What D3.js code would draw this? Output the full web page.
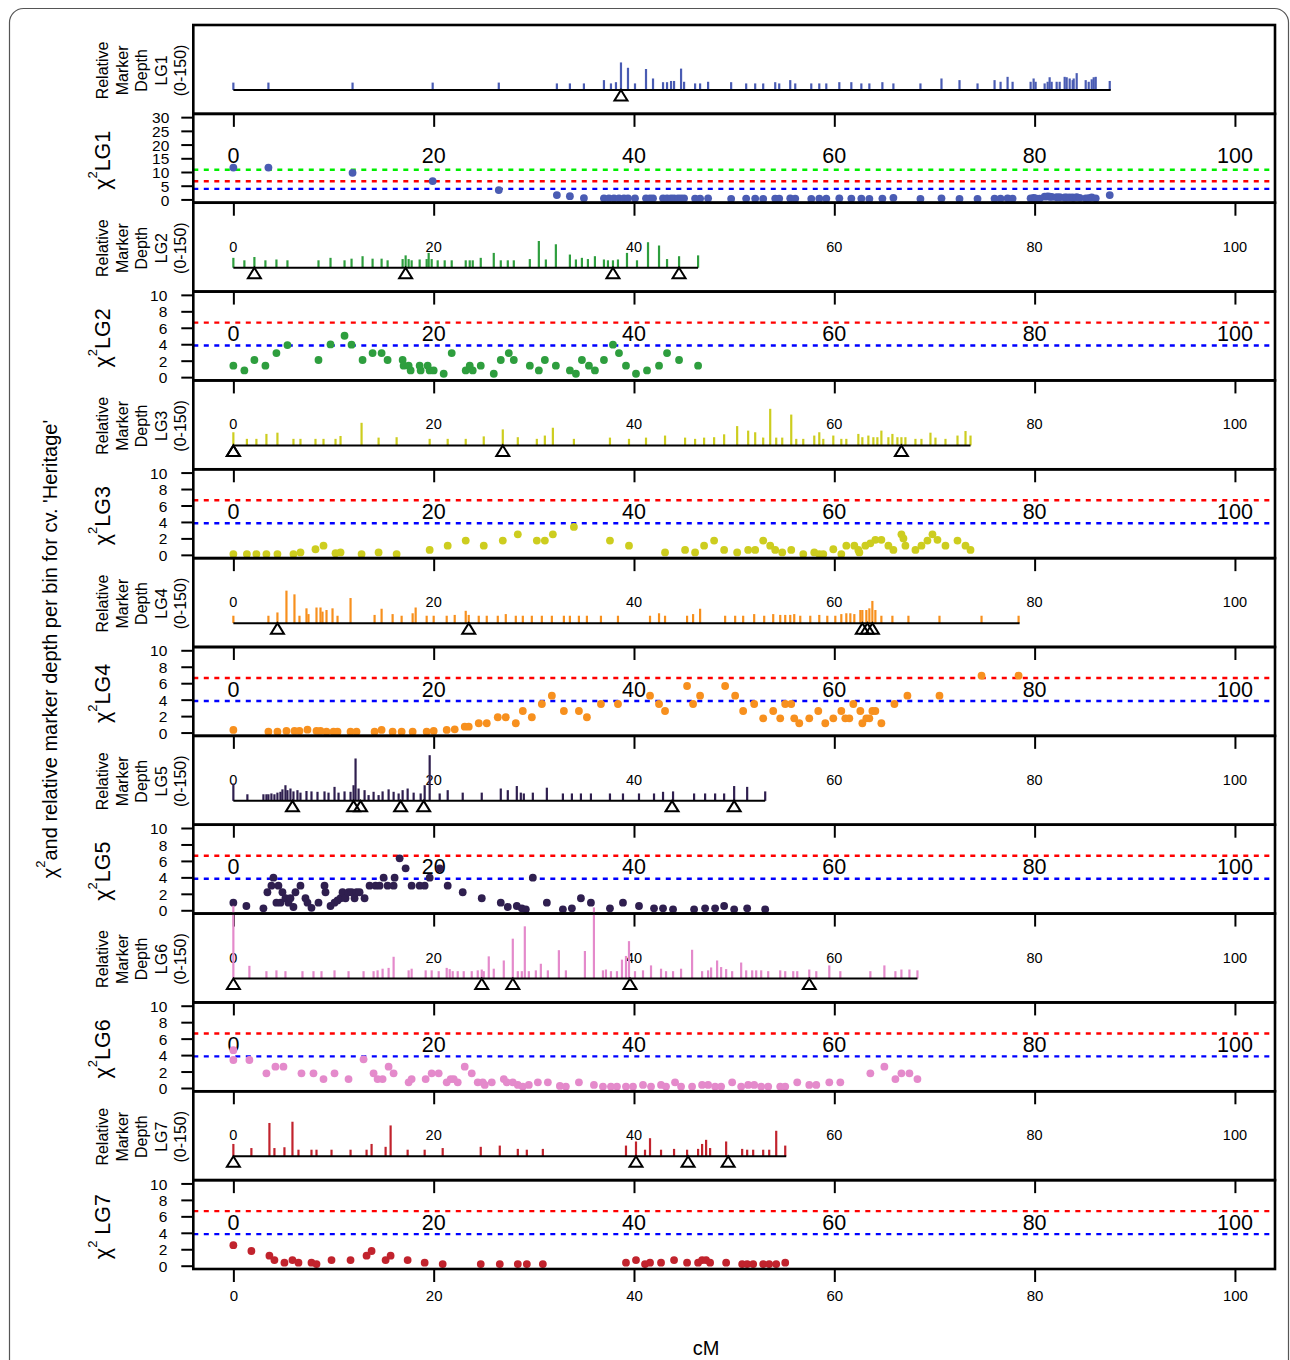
<!DOCTYPE html>
<html><head><meta charset="utf-8">
<script src="https://cdn.jsdelivr.net/npm/d3@7"></script>
<style>body{margin:0;background:#fff} svg text{font-family:"Liberation Sans",Arial,Helvetica,sans-serif;fill:#000}</style>
</head><body><svg id="c" width="1290" height="1360"></svg>
<script>
// ---------------- DATA ----------------
const cmTicks = [0, 20, 40, 60, 80, 100];
const lgNames = ["LG1", "LG2", "LG3", "LG4", "LG5", "LG6", "LG7"];
const lgColors = ["#4a5cb3", "#2e9e3e", "#cdcd1f", "#f7901e", "#2f1f4f", "#e48acb", "#c1232d"];
const lgLengths = [87.6, 46.4, 73.6, 78.5, 53.1, 68.3, 55.2];
const chiThresholds = [3.84, 6.63, 10.83];
const chiTicksLG1 = [0, 5, 10, 15, 20, 25, 30];
const chiTicks = [0, 2, 4, 6, 8, 10];

// relative marker depth per bin [cM, depth]
const lg1Depth = [[0,18],[3.5,18],[11.9,18],[19.9,18],[26.5,18],[32.3,16],[33.6,16],[35.0,16],[37.0,24],[37.7,16],[38.2,19],[38.7,67],[39.4,54],[40.1,16],[41.2,51],[41.9,28],[42.9,19],[43.3,19],[43.7,22],[44.0,22],[44.7,52],[45.0,20],[46.1,16],[46.6,16],[47.4,20],[49.7,19],[51.2,16],[52.1,16],[52.9,16],[54.1,19],[54.5,16],[55.6,24],[56.1,16],[57.7,16],[58.5,16],[59.2,16],[60.5,19],[61.7,19],[62.7,16],[63.5,16],[64.8,19],[65.9,16],[68.6,16],[70.7,28],[72.5,24],[74.3,16],[76.0,24],[76.6,20],[77.3,32],[77.8,20],[79.6,20],[79.9,28],[80.1,20],[81.0,16],[81.3,20],[81.5,31],[81.7,20],[82.2,20],[82.5,20],[83.0,32],[83.2,31],[83.5,28],[83.8,24],[83.9,28],[84.2,41],[85.1,24],[85.4,20],[85.7,26],[85.9,31],[86.1,32],[87.5,22]];
const lg2Depth = [[0,24],[1.1,18],[2.1,26],[3.2,18],[4.3,20],[5.4,18],[8.5,18],[9.7,24],[11.1,18],[11.8,22],[12.9,28],[13.9,22],[14.8,22],[15.4,18],[16.9,21],[17.2,30],[17.5,21],[17.8,18],[18.6,20],[19.3,21],[19.5,36],[19.8,21],[20.4,18],[21.1,18],[21.8,18],[23.2,18],[23.6,18],[23.9,18],[24.7,24],[26.0,36],[26.7,18],[27.4,18],[28.0,18],[29.6,21],[30.5,65],[31.2,20],[32.2,57],[33.6,32],[34.2,20],[34.8,24],[35.4,21],[36.1,28],[37.0,20],[37.4,18],[37.9,18],[38.4,20],[39.3,36],[40.3,18],[41.4,62],[42.5,54],[43.3,21],[44.5,28],[46.4,30]];
const lg3Depth = [[0,32],[1.35,16],[2.3,16],[3.3,28],[4.4,31],[6.0,16],[6.7,16],[8.2,16],[9.0,16],[10.2,16],[10.7,23],[12.8,55],[14.5,19],[16.3,20],[19.6,16],[21.4,16],[23.2,16],[25.0,22],[26.9,39],[28.4,20],[30.3,16],[31.1,24],[31.9,43],[34.0,16],[37.6,19],[39.5,16],[41.2,19],[43.1,24],[45.1,19],[46.1,16],[47.0,19],[48.0,20],[49.0,27],[50.3,47],[51.4,36],[52.1,32],[52.9,19],[53.6,89],[54.2,19],[54.8,19],[55.7,75],[56.2,16],[56.9,16],[58.0,24],[58.5,32],[58.9,16],[59.9,24],[60.7,16],[61.2,16],[62.4,28],[62.8,20],[63.4,24],[63.9,20],[64.3,20],[64.7,36],[65.4,20],[65.8,28],[66.3,20],[66.7,20],[67.1,20],[68.1,16],[68.7,16],[69.6,31],[70.1,19],[71.1,16],[72.3,24],[73.1,35],[73.6,24]];
const lg4Depth = [[0,18],[3.5,18],[4.4,26],[5.3,79],[6.1,70],[6.6,18],[7.3,36],[7.5,22],[8.3,38],[8.7,38],[8.9,28],[9.3,32],[9.9,36],[10.4,18],[11.7,61],[14.1,20],[14.8,35],[15.9,22],[16.8,18],[17.9,24],[18.2,38],[19.3,18],[20.0,18],[21.3,18],[22.1,20],[23.2,30],[23.5,20],[24.5,18],[25.3,18],[26.4,18],[27.2,22],[28.2,18],[28.9,18],[29.8,18],[30.8,18],[31.8,18],[33.0,18],[33.6,18],[34.5,18],[35.3,18],[36.7,18],[38.4,18],[41.6,18],[42.5,24],[43.1,18],[45.3,18],[45.9,22],[46.6,35],[49.1,18],[50.1,18],[50.9,18],[52.0,22],[53.0,18],[53.9,22],[54.6,20],[55.1,20],[55.6,20],[56.0,22],[56.6,18],[57.6,18],[58.5,20],[59.3,18],[60.1,18],[60.7,22],[61.2,24],[61.6,24],[62.0,22],[62.6,32],[62.8,32],[63.2,32],[63.5,36],[63.8,54],[64.1,32],[64.7,18],[65.8,18],[67.4,18],[70.5,18],[74.7,18],[78.4,18]];
const lg5Depth = [[0,42],[1.4,16],[3.0,16],[3.3,16],[3.5,16],[3.8,18],[4.1,16],[4.4,20],[4.7,22],[4.9,28],[5.2,38],[5.4,26],[5.7,30],[6.0,23],[6.4,26],[6.7,20],[7.3,24],[7.8,23],[8.4,22],[9.1,23],[9.5,20],[10.1,34],[10.5,20],[11.1,23],[11.7,22],[12.0,38],[12.2,103],[12.5,30],[13.1,26],[13.5,14],[14.0,22],[14.5,14],[14.9,23],[15.5,28],[16.0,22],[16.5,18],[16.9,26],[17.4,30],[18.0,20],[18.7,18],[19.1,38],[19.6,111],[20.6,18],[21.4,26],[22.9,20],[24.8,20],[26.7,30],[27.4,26],[28.3,36],[28.7,20],[29.0,18],[29.9,20],[31.3,32],[32.9,18],[33.8,18],[34.7,18],[35.7,18],[37.6,18],[38.9,18],[40.5,18],[42.0,18],[42.9,22],[43.9,23],[46.0,18],[47.1,18],[48.1,18],[49.0,18],[50.0,36],[51.3,34],[53.1,23]];
const lg6Depth = [[0,177],[1.6,31],[3.3,18],[4.3,20],[5.2,18],[6.9,18],[8.0,18],[8.8,18],[10.1,20],[11.5,18],[13.0,18],[14.0,18],[14.4,20],[14.9,24],[15.5,26],[16.0,53],[17.5,20],[17.8,24],[19.2,20],[19.8,20],[20.5,18],[21.3,26],[21.6,23],[21.9,18],[22.4,18],[23.0,18],[23.8,18],[24.4,20],[24.8,22],[25.0,18],[25.5,54],[26.0,24],[27.0,44],[27.9,97],[28.4,18],[28.8,18],[29.1,127],[29.5,18],[30.2,20],[30.7,36],[31.4,20],[32.5,69],[33.2,20],[35.1,67],[36.0,173],[36.9,20],[37.2,22],[37.7,18],[38.3,18],[38.8,46],[39.2,55],[39.5,91],[40.1,18],[40.9,20],[41.7,32],[42.7,24],[43.2,18],[43.9,18],[44.7,24],[45.8,70],[46.8,18],[47.4,20],[47.7,27],[48.3,44],[48.7,28],[49.2,23],[49.8,18],[50.7,39],[51.2,20],[51.8,20],[52.2,20],[52.7,20],[53.4,18],[54.6,20],[55.1,18],[55.9,18],[56.3,18],[57.5,22],[58.2,18],[59.5,32],[60.6,18],[63.6,18],[65.0,32],[66.1,18],[66.7,22],[67.5,22],[68.3,20]];
const lg7Depth = [[0,30],[1.8,20],[3.6,81],[4.1,20],[5.1,22],[5.9,84],[6.5,16],[7.8,16],[8.3,16],[9.8,16],[11.7,16],[13.3,16],[13.8,30],[15.2,23],[15.7,75],[17.4,16],[19.1,16],[20.9,20],[24.7,23],[26.6,26],[28.4,18],[29.3,16],[30.9,18],[39.2,26],[40.2,36],[41.1,16],[41.6,44],[42.7,16],[44.0,18],[45.3,16],[46.4,18],[46.8,30],[47.2,40],[47.6,20],[49.2,36],[50.8,18],[51.3,16],[51.9,16],[52.9,16],[53.5,16],[54.2,62],[55.1,26]];

// chi-square values per bin [cM, chi2]
const lg1Chi = [[0,11.6],[3.5,11.6],[11.9,9.7],[19.9,6.7],[26.5,3.4],[32.3,1.6],[33.6,1.2],[35.0,0.5],[37.0,0.4],[37.5,0.4],[38.0,0.4],[38.5,0.4],[39.0,0.4],[39.4,0.4],[40.1,0.4],[41.2,0.4],[41.6,0.4],[41.9,0.4],[42.9,0.4],[43.3,0.4],[43.7,0.4],[44.0,0.4],[44.4,0.4],[44.7,0.4],[45.0,0.4],[46.1,0.3],[46.6,0.3],[47.4,0.4],[49.7,0.2],[51.2,0.3],[52.1,0.3],[52.9,0.2],[54.1,0.3],[54.5,0.3],[55.6,0.4],[56.1,0.3],[57.7,0.2],[58.5,0.3],[59.2,0.3],[60.5,0.4],[61.7,0.3],[62.7,0.3],[63.5,0.2],[64.8,0.3],[65.9,0.6],[68.6,0.2],[70.7,0.4],[72.5,0.2],[74.3,0.2],[76.0,0.3],[76.6,0.3],[77.3,0.4],[77.8,0.3],[79.6,0.4],[79.9,0.6],[80.1,0.4],[80.5,0.3],[81.0,1.0],[81.3,1.1],[81.5,1.0],[81.7,0.9],[82.2,0.8],[82.5,0.8],[83.0,0.7],[83.2,0.7],[83.5,0.7],[83.8,0.7],[83.9,0.6],[84.2,0.8],[84.5,0.6],[85.1,0.4],[85.4,0.5],[85.7,0.7],[86.1,0.4],[87.5,1.6]];
const lg2Chi = [[0,1.39],[1.1,0.82],[2.1,2.08],[3.2,1.39],[4.3,2.93],[5.4,3.9],[8.5,2.08],[9.7,3.98],[11.1,5.03],[11.8,3.94],[12.9,2.08],[13.9,2.93],[14.8,2.93],[15.4,2.08],[16.9,2.08],[17.0,1.39],[17.5,1.39],[17.7,0.82],[18.6,1.39],[18.7,0.82],[19.4,1.39],[19.6,0.82],[20.0,0.82],[21.0,0.41],[21.8,2.93],[23.2,0.82],[23.6,1.39],[23.9,0.82],[24.7,1.39],[26.0,0.41],[26.7,2.08],[27.5,2.93],[28.0,2.08],[29.6,1.39],[30.5,0.82],[31.1,2.08],[32.2,1.39],[33.6,0.82],[34.2,0.41],[34.8,2.08],[35.5,1.39],[36.1,0.82],[37.0,2.08],[37.9,3.94],[38.5,2.93],[39.2,1.39],[40.2,0.41],[41.3,0.82],[42.5,1.39],[43.3,2.93],[44.5,2.08],[46.4,1.39]];
const lg3Chi = [[0,0.1],[1.35,0.1],[2.3,0.1],[3.3,0.1],[4.4,0.1],[6.0,0.1],[6.7,0.3],[8.2,0.68],[9.0,1.12],[10.2,0.2],[10.7,0.3],[12.8,0.1],[14.5,0.3],[16.3,0.1],[19.6,0.6],[21.4,1.12],[23.2,1.73],[25.0,1.12],[26.9,1.73],[28.4,2.5],[30.3,1.73],[31.1,1.73],[31.9,2.5],[34.0,3.4],[37.6,1.73],[39.5,1.12],[43.1,0.3],[45.1,0.6],[46.1,0.3],[47.0,1.12],[48.0,1.73],[49.0,0.6],[50.3,0.3],[51.4,0.6],[52.1,0.6],[52.9,1.73],[53.6,1.12],[54.1,0.6],[54.8,0.3],[55.7,0.6],[56.9,0.1],[58.0,0.3],[58.5,0.1],[58.9,0.1],[59.9,0.68],[60.7,0.1],[61.2,1.12],[62.0,1.12],[62.4,0.6],[62.5,0.3],[63.1,1.12],[63.6,1.4],[64.1,1.83],[64.7,1.83],[65.4,1.12],[65.9,0.6],[66.7,2.5],[66.9,2.0],[67.1,1.12],[68.1,0.6],[68.7,1.12],[69.3,1.73],[69.8,2.5],[70.3,1.83],[71.1,1.12],[72.3,1.73],[73.1,1.12],[73.6,0.6]];
const lg4Chi = [[0,0.32],[3.5,0.11],[4.4,0.11],[5.3,0.2],[6.1,0.2],[6.6,0.2],[7.4,0.35],[8.3,0.2],[8.7,0.2],[9.3,0.11],[10.0,0.11],[10.4,0.11],[11.7,0.11],[12.3,0.11],[14.1,0.11],[14.8,0.32],[15.9,0.11],[16.8,0.11],[17.9,0.11],[19.3,0.11],[20.0,0.2],[21.3,0.32],[22.1,0.4],[23.1,0.72],[23.5,0.72],[24.5,1.13],[25.3,1.13],[26.4,1.86],[27.2,1.86],[28.2,1.13],[28.9,2.62],[29.8,1.86],[30.8,3.47],[31.8,4.48],[33.0,2.62],[34.5,2.62],[35.3,1.86],[36.7,3.47],[38.4,3.47],[41.6,4.48],[42.5,3.47],[43.1,2.62],[45.3,5.66],[45.9,3.47],[46.6,4.48],[49.1,5.66],[50.1,4.48],[50.9,2.62],[52.0,3.47],[52.9,1.73],[53.9,2.62],[54.6,1.73],[55.1,3.47],[55.7,3.47],[56.0,1.73],[56.5,1.13],[57.5,1.73],[58.4,2.62],[59.1,1.13],[59.9,1.73],[60.7,2.62],[61.1,1.73],[61.5,1.73],[61.9,3.47],[62.6,2.62],[62.8,1.13],[63.2,1.73],[63.5,1.73],[63.8,2.62],[64.1,2.62],[64.7,1.13],[66.0,3.47],[67.3,4.48],[70.5,4.48],[74.7,6.91],[78.4,6.91]];
const lg5Chi = [[0,0.93],[1.3,0.52],[3.0,0.24],[3.4,2.19],[3.8,2.99],[4.0,3.96],[4.3,0.93],[4.5,2.99],[4.7,0.93],[4.9,2.19],[5.2,1.46],[5.5,0.93],[5.7,1.46],[6.0,0.4],[6.2,2.19],[6.7,2.99],[7.2,1.46],[7.4,0.93],[7.8,0.3],[8.5,0.93],[9.1,2.99],[9.2,2.19],[9.7,0.52],[10.1,0.93],[10.4,1.2],[10.7,1.46],[10.9,2.19],[11.2,1.46],[11.5,2.19],[11.8,2.19],[12.1,1.46],[12.3,2.19],[12.6,2.19],[13.1,1.46],[13.6,2.99],[14.2,2.99],[14.6,2.99],[15.0,3.96],[15.4,2.99],[16.0,2.99],[16.1,3.96],[16.6,6.32],[17.2,5.1],[17.8,2.99],[18.6,2.99],[19.1,2.99],[19.6,3.96],[20.6,5.1],[21.4,2.99],[22.9,2.19],[24.8,1.46],[26.7,0.93],[27.4,0.4],[28.3,0.52],[28.8,0.24],[29.2,0.12],[29.9,3.96],[31.3,0.93],[32.9,0.12],[33.8,0.24],[34.7,1.46],[35.7,0.93],[37.6,0.24],[38.9,0.93],[40.5,0.52],[42.0,0.24],[42.9,0.24],[43.9,0.12],[46.0,0.12],[47.1,0.24],[48.1,0.24],[49.0,0.52],[50.0,0.12],[51.3,0.24],[53.1,0.12]];
const lg6Chi = [[0,4.6],[0,3.4],[1.6,3.4],[3.3,1.78],[4.2,2.59],[5.0,2.59],[6.8,1.78],[8.0,1.78],[9.0,1.09],[10.1,1.78],[11.5,1.09],[13.0,3.48],[14.0,1.78],[14.4,1.09],[14.9,1.09],[15.5,2.59],[16.0,1.78],[17.5,0.69],[17.8,1.09],[19.2,1.09],[19.8,1.78],[20.5,1.78],[21.3,0.69],[21.7,1.09],[22.0,1.09],[22.4,0.69],[23.1,2.59],[23.8,1.78],[24.4,0.69],[24.9,0.69],[25.1,0.37],[25.8,0.69],[27.0,1.09],[27.3,0.69],[27.9,0.69],[28.4,0.37],[28.9,0.17],[29.5,0.37],[30.4,0.69],[31.4,0.69],[32.6,0.25],[33.2,0.17],[34.5,0.69],[36.0,0.37],[36.9,0.17],[37.7,0.17],[38.3,0.17],[39.2,0.17],[39.9,0.17],[40.9,0.37],[41.7,0.17],[42.7,0.37],[43.2,0.17],[44.1,0.69],[44.7,0.17],[45.8,0.17],[46.8,0.37],[47.4,0.37],[48.1,0.17],[48.7,0.17],[49.8,0.69],[50.7,0.17],[51.4,0.37],[52.0,0.37],[52.7,0.17],[53.4,0.17],[54.6,0.17],[55.1,0.17],[56.3,0.69],[57.5,0.37],[58.2,0.37],[59.5,0.69],[60.6,0.69],[63.6,1.78],[65.0,2.59],[66.1,1.09],[66.7,1.78],[67.5,1.78],[68.3,1.09]];
const lg7Chi = [[0,2.5],[1.8,1.79],[3.6,1.22],[4.1,0.69],[5.1,0.37],[5.9,0.69],[6.5,0.37],[7.8,0.37],[8.3,0.2],[9.8,0.69],[11.7,0.69],[13.3,1.22],[13.8,1.79],[15.2,0.69],[15.7,1.22],[17.4,0.69],[19.1,0.37],[20.9,0.2],[24.7,0.2],[26.6,0.2],[28.4,0.2],[29.3,0.2],[30.9,0.2],[39.2,0.37],[40.2,0.69],[41.1,0.2],[41.6,0.37],[42.7,0.37],[44.0,0.69],[45.3,0.37],[46.4,0.37],[46.8,0.69],[47.2,0.69],[47.6,0.37],[49.2,0.37],[50.8,0.2],[51.3,0.2],[51.9,0.2],[52.9,0.2],[53.5,0.2],[54.2,0.2],[55.1,0.37]];

// open triangles (marker positions, cM)
const lg1Tri = [38.7];
const lg2Tri = [2.1, 17.2, 37.9, 44.5];
const lg3Tri = [0, 0, 26.9, 66.7];
const lg4Tri = [4.4, 23.5, 62.8, 63.3, 63.8];
const lg5Tri = [5.9, 12.0, 12.7, 16.7, 19.0, 43.8, 50.0];
const lg6Tri = [0, 24.8, 27.9, 39.6, 57.5];
const lg7Tri = [0, 40.2, 45.4, 49.4];

// ---------------- BUILD ----------------
const depthAll = [lg1Depth, lg2Depth, lg3Depth, lg4Depth, lg5Depth, lg6Depth, lg7Depth];
const chiAll = [lg1Chi, lg2Chi, lg3Chi, lg4Chi, lg5Chi, lg6Chi, lg7Chi];
const triAll = [lg1Tri, lg2Tri, lg3Tri, lg4Tri, lg5Tri, lg6Tri, lg7Tri];
const groups = lgNames.map((n, i) => ({name: n, color: lgColors[i], len: lgLengths[i], depth: depthAll[i], chi: chiAll[i], tri: triAll[i]}));

const svg = d3.select("#c");
const FONT = '"Liberation Sans",Arial,Helvetica,sans-serif';

svg.append("rect").attr("x", 9.5).attr("y", 8.5).attr("width", 1279).attr("height", 1420)
  .attr("rx", 14).attr("fill", "none").attr("stroke", "#555").attr("stroke-width", 1.2);

const L = 193.3, R = 1275, T = 25, B = 1269, nP = 14, ph = (B - T) / nP;
const x = d3.scaleLinear().domain([-4, 104]).range([L, R]);
const FRAME = 2.6;

function topTicks(top) {
  const g = svg.append("g").attr("transform", `translate(0,${top})`)
    .call(d3.axisBottom(x).tickValues(cmTicks).tickSize(13).tickFormat(""));
  g.select(".domain").remove();
  g.selectAll("line").attr("stroke", "#000").attr("stroke-width", 2);
}
function frame(top) {
  svg.append("rect").attr("x", L).attr("y", top).attr("width", R - L).attr("height", ph)
    .attr("fill", "none").attr("stroke", "#000").attr("stroke-width", FRAME);
}
function rotText(xb, yc, size) {
  return svg.append("text").attr("transform", `translate(${xb},${yc}) rotate(-90)`)
    .attr("text-anchor", "middle").attr("font-size", size);
}

groups.forEach((g, i) => {
  const dTop = T + ph * (2 * i), cTop = dTop + ph;

  // ----- depth panel -----
  const yd = d3.scaleLinear().domain([-58, 158]).range([dTop + ph, dTop]);
  const base = yd(0);
  if (i > 0) {
    topTicks(dTop);
    svg.append("g").selectAll("text").data(cmTicks).join("text")
      .attr("x", d => x(d)).attr("y", dTop + 49).attr("text-anchor", "middle")
      .attr("font-size", 14.5).text(d => d);
  }
  svg.append("g").selectAll("line").data(g.depth).join("line")
    .attr("x1", d => x(d[0])).attr("x2", d => x(d[0]))
    .attr("y1", base).attr("y2", d => yd(d[1]))
    .attr("stroke", g.color).attr("stroke-width", 2.2);
  svg.append("line").attr("x1", x(0)).attr("x2", x(g.len)).attr("y1", base).attr("y2", base)
    .attr("stroke", "#000").attr("stroke-width", 2);
  svg.append("g").selectAll("path").data(g.tri).join("path")
    .attr("d", d => { const cx = x(d); return `M${cx},${base}L${cx + 6.5},${base + 10.5}L${cx - 6.5},${base + 10.5}Z`; })
    .attr("fill", "none").attr("stroke", "#000").attr("stroke-width", 2).attr("stroke-linejoin", "miter");
  frame(dTop);
  const dc = dTop + ph / 2 + 1;
  ["Relative", "Marker", "Depth", g.name, "(0-150)"].forEach((t, k) => {
    rotText(108 + k * 19.5, dc, 16).text(t);
  });

  // ----- chi-square panel -----
  const isFirst = i === 0;
  const yc = d3.scaleLinear().domain(isFirst ? [-1.2, 31.2] : [-0.4, 10.4]).range([cTop + ph, cTop]);
  topTicks(cTop);
  svg.append("g").selectAll("text").data(cmTicks).join("text")
    .attr("x", d => x(d)).attr("y", cTop + 49.5).attr("text-anchor", "middle")
    .attr("font-size", 21.5).text(d => d);
  const thr = isFirst ? chiThresholds : chiThresholds.slice(0, 2);
  const thrCol = ["#0000ff", "#ff0000", "#00ee00"];
  svg.append("g").selectAll("line").data(thr).join("line")
    .attr("x1", L).attr("x2", R).attr("y1", d => yc(d)).attr("y2", d => yc(d))
    .attr("stroke", (d, k) => thrCol[k]).attr("stroke-width", 2.4).attr("stroke-dasharray", "5,5.5");
  svg.append("g").selectAll("circle").data(g.chi).join("circle")
    .attr("cx", d => x(d[0])).attr("cy", d => yc(d[1])).attr("r", 3.9).attr("fill", g.color);
  const ax = svg.append("g").attr("transform", `translate(${L},0)`)
    .call(d3.axisLeft(yc).tickValues(isFirst ? chiTicksLG1 : chiTicks).tickSize(12).tickPadding(isFirst ? 12 : 14));
  ax.select(".domain").remove();
  ax.selectAll("line").attr("stroke", "#000").attr("stroke-width", 2);
  ax.selectAll("text").attr("font-size", 15.5).attr("font-family", FONT).attr("dy", "0.36em");
  frame(cTop);
  const cl = rotText(110, cTop + ph / 2 + 2, 21.5);
  cl.append("tspan").text("\u03c7");
  cl.append("tspan").attr("dy", -13).attr("font-size", 13).text("2");
  cl.append("tspan").attr("dy", 13).text(i === 6 ? "\u00a0" + g.name : g.name);
});

// bottom axis
const bx = svg.append("g").attr("transform", `translate(0,${B})`)
  .call(d3.axisBottom(x).tickValues(cmTicks).tickSize(13).tickPadding(8));
bx.select(".domain").remove();
bx.selectAll("line").attr("stroke", "#000").attr("stroke-width", 2);
bx.selectAll("text").attr("font-size", 15).attr("font-family", FONT);

// axis titles
svg.append("text").attr("x", 706).attr("y", 1355).attr("text-anchor", "middle").attr("font-size", 20).text("cM");
const tt = rotText(57, 649, 20);
tt.append("tspan").text("\u03c7");
tt.append("tspan").attr("dy", -12).attr("font-size", 13).text("2");
tt.append("tspan").attr("dy", 12).text("and relative marker depth per bin for cv. 'Heritage'");
</script>
</body></html>
